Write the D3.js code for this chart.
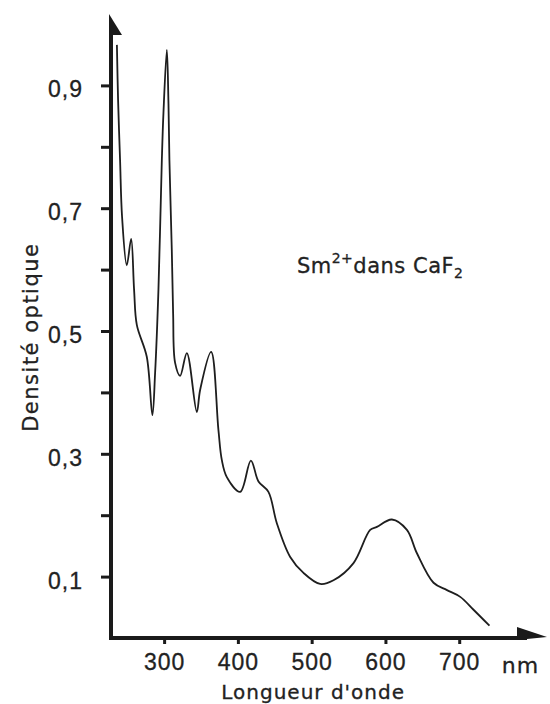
<!DOCTYPE html>
<meta charset="utf-8">
<style>
    body { margin: 0; background: #fff; }
    svg { font-family: "DejaVu Sans", sans-serif; }
    .axis text { fill: #222; font-size: 23px; letter-spacing: 1px; stroke: #222; stroke-width: 0.3; }
    .axis line { stroke: #1a1a1a; stroke-width: 3; }
    .axis path.domain { display: none; }
    .label { fill: #222; stroke: #222; stroke-width: 0.3; }
    .spectre { fill: none; stroke: #1e1e1e; stroke-width: 1.8; stroke-linejoin: round; }
</style>
<body>
<script src="https://d3js.org/d3.v7.min.js"></script>
<script>

    // longueur d'onde (nm) et densité optique
    var lambda = [236, 237.6, 240.3, 243, 249.4, 255.3, 259.3, 263, 276.5, 284.1,
        287.8, 292.3, 296.9, 299.1, 303.7, 305.8, 307.2, 310.4, 312.2, 314.9,
        321.7, 330.8, 344.3, 348.8, 363.7, 373.6, 378.2, 385, 403.1, 417.6,
        427.9, 441.4, 452.8, 470.9, 488.9, 511.5, 529.6, 556.7, 579.3, 588.4,
        608.8, 629.1, 642.7, 665.2, 683.4, 701.4, 719.4, 741];
    var densite = [0.966, 0.876, 0.778, 0.686, 0.607, 0.650, 0.567, 0.510, 0.458, 0.363,
        0.432, 0.567, 0.778, 0.855, 0.958, 0.876, 0.778, 0.632, 0.529, 0.448,
        0.427, 0.464, 0.368, 0.404, 0.466, 0.339, 0.290, 0.262, 0.238, 0.289,
        0.255, 0.238, 0.187, 0.132, 0.106, 0.088, 0.094, 0.122, 0.176, 0.181,
        0.193, 0.176, 0.138, 0.090, 0.078, 0.067, 0.046, 0.020];

    var xTicks = [300, 400, 500, 600, 700];
    var yTicks = [0.1, 0.2, 0.3, 0.4, 0.5, 0.6, 0.7, 0.8, 0.9];
    var yLabels = ["0,1", "", "0,3", "", "0,5", "", "0,7", "", "0,9"];

    var margin = {top: 24, left: 111},
        width = 436,
        height = 614;

    var x = d3.scaleLinear()
        .domain([228, 819])
        .range([0, width]);

    var y = d3.scaleLinear()
        .domain([0, 1])
        .range([height, 0]);

    var svg = d3.select("body").append("svg")
        .attr("width", 550)
        .attr("height", 704)
        .append("g")
        .attr("transform", "translate(" + margin.left + "," + margin.top + ")");

    var yAxis = d3.axisLeft(y)
        .tickValues(yTicks)
        .tickSize(10)
        .tickPadding(18)
        .tickFormat(function(d, i) { return yLabels[i]; });

    var xAxis = d3.axisBottom(x)
        .tickValues(xTicks)
        .tickSize(6)
        .tickPadding(12)
        .tickFormat(d3.format("d"));

    svg.append("g")
        .attr("class", "y axis")
        .call(yAxis)
        .selectAll("text")
        .attr("dy", "0.5em");

    svg.append("g")
        .attr("class", "x axis")
        .attr("transform", "translate(0," + height + ")")
        .call(xAxis)
        .selectAll("text")
        .attr("dy", "0.6em");

    // axes épais avec flèches
    svg.append("line")
        .attr("x1", 0).attr("y1", height + 1)
        .attr("x2", 0).attr("y2", -3)
        .attr("stroke", "#1a1a1a").attr("stroke-width", 4);
    svg.append("path")
        .attr("d", "M-2,-10 L-2,11 L11,11 Z")
        .attr("fill", "#1a1a1a");

    svg.append("line")
        .attr("x1", -2).attr("y1", height)
        .attr("x2", width - 20).attr("y2", height)
        .attr("stroke", "#1a1a1a").attr("stroke-width", 4);
    svg.append("path")
        .attr("d", "M" + (width - 30) + "," + (height - 11) + " L" + width + "," + (height - 1) + " L" + (width - 30) + "," + (height + 2) + " Z")
        .attr("fill", "#1a1a1a");

    var line = d3.line()
        .x(function(d, i) { return x(lambda[i]); })
        .y(function(d) { return y(d); })
        .curve(d3.curveCatmullRom.alpha(0.5));

    svg.append("path")
        .datum(densite)
        .attr("class", "spectre")
        .attr("d", line);

    svg.append("text")
        .attr("class", "label")
        .attr("x", x(783))
        .attr("y", height + 35)
        .attr("text-anchor", "middle")
        .style("font-size", "22px")
        .style("letter-spacing", "1px")
        .text("nm");

    svg.append("text")
        .attr("class", "label")
        .attr("x", x(502))
        .attr("y", height + 61)
        .attr("text-anchor", "middle")
        .style("font-size", "20px")
        .style("letter-spacing", "1px")
        .text("Longueur d'onde");

    svg.append("text")
        .attr("class", "label")
        .attr("transform", "translate(-73," + y(0.49) + ") rotate(-90)")
        .attr("text-anchor", "middle")
        .style("font-size", "21px")
        .style("letter-spacing", "1.5px")
        .text("Densité optique");

    var titre = svg.append("text")
        .attr("class", "label")
        .attr("x", x(480))
        .attr("y", y(0.6) + 3)
        .style("font-size", "21px")
        .style("letter-spacing", "0.5px");
    titre.append("tspan").text("Sm");
    titre.append("tspan").attr("dy", -10).style("font-size", "14px").text("2+");
    titre.append("tspan").attr("dy", 10).text("dans CaF");
    titre.append("tspan").attr("dy", 5).style("font-size", "14px").text("2");

</script>
